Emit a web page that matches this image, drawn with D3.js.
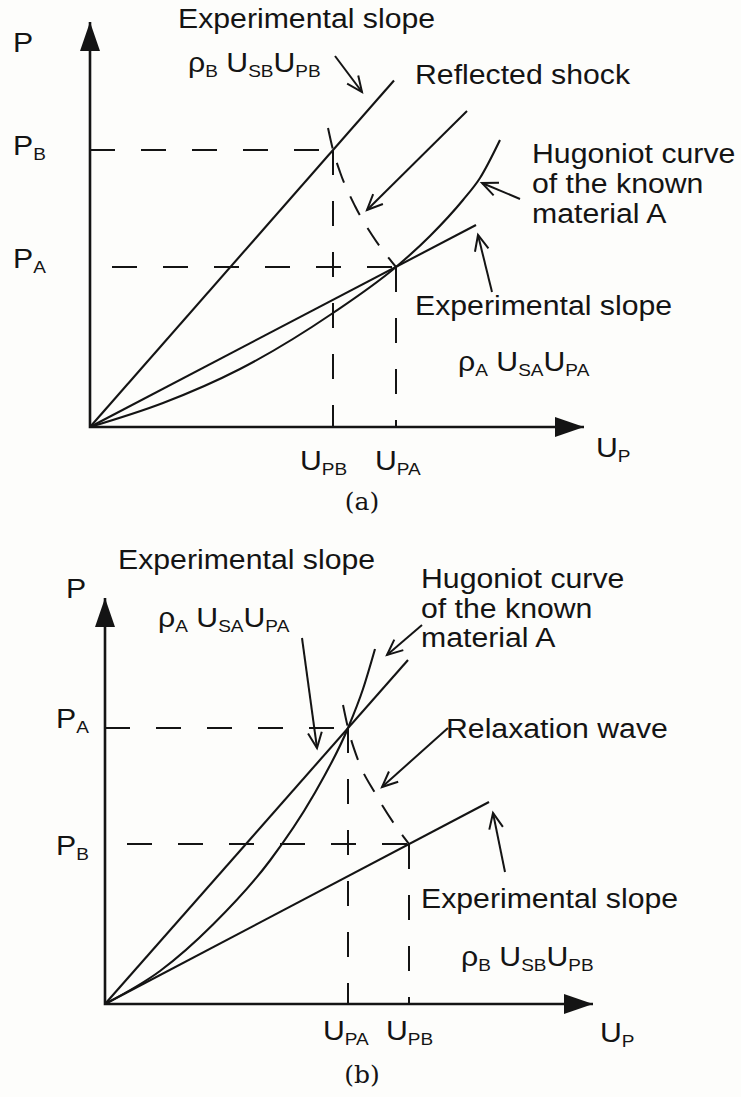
<!DOCTYPE html>
<html><head><meta charset="utf-8">
<script src="https://cdn.jsdelivr.net/npm/d3@7"></script>
<style>html,body{margin:0;padding:0;background:#fdfdfb;} svg{display:block;background:#fdfdfb;}</style>
</head><body><svg id="c" width="741" height="1097"></svg>
<script>
// ---------- Panel (a) data (arbitrary units) ----------
const aLevels = {UPB: 4.86, UPA: 6.12, PB: 5.54, PA: 3.2};
const aAxisEnd = [9.88, 8.1];
const aSlopeB = [[0, 0], [6.08, 6.93]];
const aSlopeA = [[0, 0], [7.72, 4.04]];
const aHugoniot = [[0, 0], [1.46, 0.48], [3.0, 1.16], [4.86, 2.28], [6.12, 3.2], [6.8, 3.82], [7.46, 4.54], [7.8, 4.98], [8.2, 5.74]];
const aReflected = [[4.76, 5.98], [4.86, 5.54], [5.0, 5.1], [5.3, 4.42], [5.64, 3.84], [6.12, 3.2]];
const aArrows = [[[4.9, 7.42], [5.44, 6.7]], [[7.54, 6.32], [5.54, 4.34]], [[8.6, 4.56], [7.84, 4.88]], [[8.04, 2.7], [7.76, 3.84]]];
const aLabels = [
  {p: [1.76, 7.98], t: [["Experimental slope", 0]]},
  {p: [1.96, 7.1], t: [["ρ", 0], ["B", 1], [" U", 0], ["SB", 1], ["U", 0], ["PB", 1]]},
  {p: [6.5, 6.86], t: [["Reflected shock", 0]]},
  {p: [8.84, 5.28], t: [["Hugoniot curve", 0]]},
  {p: [8.84, 4.68], t: [["of the known", 0]]},
  {p: [8.84, 4.08], t: [["material A", 0]]},
  {p: [6.5, 2.24], t: [["Experimental slope", 0]]},
  {p: [7.36, 1.12], t: [["ρ", 0], ["A", 1], [" U", 0], ["SA", 1], ["U", 0], ["PA", 1]]},
  {p: [-1.54, 7.5], t: [["P", 0]]},
  {p: [-1.54, 5.44], t: [["P", 0], ["B", 1]]},
  {p: [-1.54, 3.18], t: [["P", 0], ["A", 1]]},
  {p: [4.2, -0.86], t: [["U", 0], ["PB", 1]]},
  {p: [5.7, -0.86], t: [["U", 0], ["PA", 1]]},
  {p: [10.12, -0.6], t: [["U", 0], ["P", 1]]}
];
const aCaption = {p: [5.44, -1.66], t: "(a)"};

// ---------- Panel (b) data ----------
const bLevels = {UPA: 4.86, UPB: 6.08, PA: 5.52, PB: 3.2};
const bAxisEnd = [9.76, 8.12];
const bSlopeA = [[0, 0], [6.06, 6.88]];
const bSlopeB = [[0, 0], [7.68, 4.04]];
const bHugoniot = [[0, 0], [1.1, 0.66], [2.16, 1.59], [3.3, 2.87], [4.16, 4.16], [4.86, 5.52], [5.16, 6.3], [5.4, 7.1]];
const bRelax = [[4.76, 5.98], [4.86, 5.52], [5.06, 4.88], [5.4, 4.22], [5.8, 3.58], [6.08, 3.2]];
const bArrows = [[[3.94, 7.32], [4.24, 5.12]], [[6.34, 7.58], [5.64, 6.98]], [[6.86, 5.52], [5.54, 4.34]], [[8.0, 2.64], [7.76, 3.82]]];
const bLabels = [
  {p: [0.26, 8.7], t: [["Experimental slope", 0]]},
  {p: [1.06, 7.54], t: [["ρ", 0], ["A", 1], [" U", 0], ["SA", 1], ["U", 0], ["PA", 1]]},
  {p: [6.32, 8.32], t: [["Hugoniot curve", 0]]},
  {p: [6.32, 7.73], t: [["of the known", 0]]},
  {p: [6.32, 7.14], t: [["material A", 0]]},
  {p: [6.82, 5.32], t: [["Relaxation wave", 0]]},
  {p: [6.32, 1.92], t: [["Experimental slope", 0]]},
  {p: [7.12, 0.76], t: [["ρ", 0], ["B", 1], [" U", 0], ["SB", 1], ["U", 0], ["PB", 1]]},
  {p: [-0.78, 8.12], t: [["P", 0]]},
  {p: [-0.98, 5.52], t: [["P", 0], ["A", 1]]},
  {p: [-0.98, 2.98], t: [["P", 0], ["B", 1]]},
  {p: [4.36, -0.72], t: [["U", 0], ["PA", 1]]},
  {p: [5.62, -0.72], t: [["U", 0], ["PB", 1]]},
  {p: [9.9, -0.76], t: [["U", 0], ["P", 1]]}
];
const bCaption = {p: [5.14, -1.58], t: "(b)"};

// ---------- drawing ----------
const svg = d3.select("#c");
const INK = "#141414";
const FONT = "'Liberation Sans', Arial, Helvetica, sans-serif";

function richText(g, x, y, parts) {
  const t = g.append("text")
    .attr("transform", `translate(${x},${y}) scale(1.12,1)`)
    .style("font-family", FONT).style("font-size", "27px")
    .style("fill", INK).style("white-space", "pre");
  let sub = false;
  parts.forEach(([s, isSub]) => {
    const ts = t.append("tspan").text(s);
    if (isSub) ts.style("font-size", "17px");
    if (isSub && !sub) ts.attr("dy", 5);
    if (!isSub && sub) ts.attr("dy", -5);
    sub = !!isSub;
  });
}

function panel(cfg) {
  const x = d3.scaleLinear().domain([0, 10]).range([cfg.ox, cfg.ox + 500]);
  const y = d3.scaleLinear().domain([0, 10]).range([cfg.oy, cfg.oy - 500]);
  const g = svg.append("g");
  const line = d3.line().x(d => x(d[0])).y(d => y(d[1]));
  const curve = d3.line().x(d => x(d[0])).y(d => y(d[1])).curve(d3.curveMonotoneX);

  const guides = [
    {pts: [[0, cfg.hiP], [cfg.hiU, cfg.hiP]], off: cfg.hiOff},
    {pts: [[0, cfg.loP], [cfg.loU, cfg.loP]], off: cfg.loOff},
    {pts: [[cfg.hiU, cfg.hiP], [cfg.hiU, 0]], off: 0},
    {pts: [[cfg.loU, cfg.loP], [cfg.loU, 0]], off: 0}
  ];
  guides.forEach(gd => g.append("path").attr("d", line(gd.pts))
    .attr("fill", "none").attr("stroke", INK).attr("stroke-width", 2)
    .attr("stroke-dasharray", "25,26").attr("stroke-dashoffset", gd.off));

  g.append("path").attr("d", curve(cfg.wave.slice().sort((p, q) => p[0] - q[0]))).attr("fill", "none")
    .attr("stroke", INK).attr("stroke-width", 2).attr("stroke-dasharray", "21,15");

  [cfg.s1, cfg.s2].forEach(s => g.append("path").attr("d", line(s))
    .attr("fill", "none").attr("stroke", INK).attr("stroke-width", 2.1));
  g.append("path").attr("d", curve(cfg.hug)).attr("fill", "none")
    .attr("stroke", INK).attr("stroke-width", 2.1);

  const ex = cfg.axisEnd[0], ey = cfg.axisEnd[1];
  g.append("path").attr("d", line([[0, ey], [0, 0], [ex, 0]])).attr("fill", "none")
    .attr("stroke", INK).attr("stroke-width", 2.6);
  const tx = x(ex), ty = y(0);
  g.append("path").attr("d", `M${tx},${ty}L${tx - 29},${ty - 10}L${tx - 29},${ty + 10}Z`).attr("fill", INK);
  const ux = x(0), uy = y(ey);
  g.append("path").attr("d", `M${ux},${uy}L${ux - 10},${uy + 29}L${ux + 10},${uy + 29}Z`).attr("fill", INK);

  cfg.arrows.forEach(([a, b]) => {
    const x1 = x(a[0]), y1 = y(a[1]), x2 = x(b[0]), y2 = y(b[1]);
    const th = Math.atan2(y2 - y1, x2 - x1), Lh = 17, ph = 0.42;
    g.append("path").attr("d", `M${x1},${y1}L${x2},${y2}`).attr("stroke", INK)
      .attr("stroke-width", 2).attr("fill", "none");
    g.append("path").attr("d",
      `M${x2 - Lh * Math.cos(th - ph)},${y2 - Lh * Math.sin(th - ph)}L${x2},${y2}L${x2 - Lh * Math.cos(th + ph)},${y2 - Lh * Math.sin(th + ph)}`)
      .attr("stroke", INK).attr("stroke-width", 2).attr("fill", "none");
  });

  cfg.labels.forEach(l => richText(g, x(l.p[0]), y(l.p[1]), l.t));
  g.append("text").attr("x", x(cfg.caption.p[0])).attr("y", y(cfg.caption.p[1]))
    .attr("text-anchor", "middle").style("font-family", "'DejaVu Serif', 'Liberation Serif', serif")
    .style("font-size", "25px").style("fill", INK).text(cfg.caption.t);
}

panel({ox: 90, oy: 427, hiU: aLevels.UPB, hiP: aLevels.PB, loU: aLevels.UPA, loP: aLevels.PA,
  hiOff: 0, loOff: 29, wave: aReflected, s1: aSlopeB, s2: aSlopeA, hug: aHugoniot, axisEnd: aAxisEnd,
  arrows: aArrows, labels: aLabels, caption: aCaption});
panel({ox: 105, oy: 1004, hiU: bLevels.UPA, hiP: bLevels.PA, loU: bLevels.UPB, loP: bLevels.PB,
  hiOff: 0, loOff: 29, wave: bRelax, s1: bSlopeA, s2: bSlopeB, hug: bHugoniot, axisEnd: bAxisEnd,
  arrows: bArrows, labels: bLabels, caption: bCaption});
</script></body></html>
